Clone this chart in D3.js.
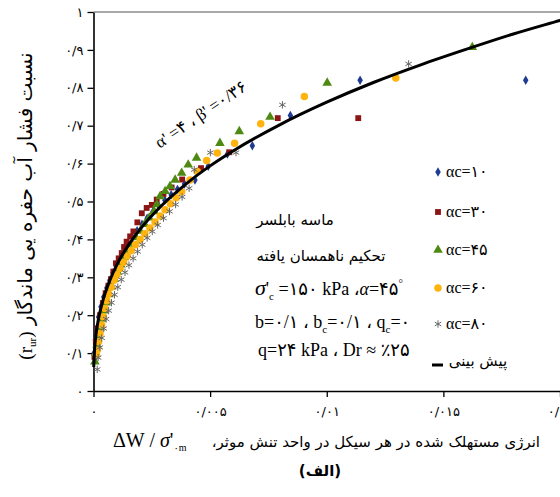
<!DOCTYPE html>
<html><head><meta charset="utf-8">
<script src="https://cdn.jsdelivr.net/npm/d3@7"></script>
<style>body{margin:0;background:#fff}svg{display:block}</style>
</head><body>
<script>
// ---- data ----
const xTicks = [0, 0.005, 0.01, 0.015, 0.02];
const xTickLabels = ["۰", "۰/۰۰۵", "۰/۰۱", "۰/۰۱۵", "۰/۰۲"];
const yTicks = [0, 0.1, 0.2, 0.3, 0.4, 0.5, 0.6, 0.7, 0.8, 0.9, 1];
const yTickLabels = ["۰", "۰/۱", "۰/۲", "۰/۳", "۰/۴", "۰/۵", "۰/۶", "۰/۷", "۰/۸", "۰/۹", "۱"];

const ac10 = [[0.00003,0.10],[0.00008,0.135],[0.00014,0.165],[0.00022,0.195],[0.00032,0.222],[0.00044,0.248],[0.00057,0.272],[0.0007,0.292],[0.00084,0.312],[0.00098,0.33],[0.00113,0.348],[0.0013,0.367],[0.00148,0.386],[0.00167,0.405],[0.00187,0.423],[0.00208,0.44],[0.0023,0.456],[0.00254,0.472],[0.0028,0.488],[0.00306,0.503],[0.00333,0.518],[0.0036,0.532],[0.0039,0.546],[0.00435,0.557],[0.00492,0.593],[0.00574,0.625],[0.00681,0.647],[0.00844,0.727],[0.01143,0.82],[0.01853,0.82]];
const ac30 = [[0.00004,0.09],[0.0001,0.13],[0.00018,0.165],[0.00028,0.2],[0.0004,0.232],[0.00052,0.258],[0.00064,0.278],[0.00075,0.295],[0.00085,0.315],[0.00096,0.337],[0.00108,0.35],[0.00121,0.364],[0.00131,0.38],[0.00142,0.394],[0.00157,0.408],[0.00171,0.421],[0.00188,0.445],[0.00207,0.469],[0.00228,0.483],[0.0025,0.491],[0.00271,0.505],[0.003,0.52],[0.00335,0.537],[0.0038,0.558],[0.00461,0.588],[0.00582,0.63],[0.0079,0.72],[0.01135,0.72]];
const ac45 = [[0.00006,0.077],[0.0001,0.1],[0.00015,0.122],[0.00021,0.145],[0.00028,0.167],[0.00036,0.19],[0.00045,0.212],[0.00055,0.233],[0.00066,0.255],[0.00078,0.275],[0.0009,0.295],[0.00103,0.314],[0.00117,0.333],[0.00132,0.352],[0.00148,0.37],[0.00165,0.388],[0.00182,0.405],[0.002,0.422],[0.00219,0.44],[0.00239,0.457],[0.0026,0.474],[0.00272,0.492],[0.00285,0.513],[0.00307,0.527],[0.00328,0.54],[0.0035,0.557],[0.00378,0.575],[0.00406,0.597],[0.00442,0.615],[0.00542,0.654],[0.00625,0.685],[0.00757,0.723],[0.01002,0.813],[0.01624,0.907]];
const ac60 = [[0.00012,0.095],[0.00016,0.108],[0.00022,0.13],[0.00028,0.152],[0.00035,0.174],[0.00042,0.196],[0.00049,0.218],[0.00057,0.238],[0.00065,0.256],[0.00076,0.274],[0.00088,0.292],[0.001,0.307],[0.00114,0.323],[0.00129,0.34],[0.00145,0.356],[0.00162,0.371],[0.0018,0.386],[0.002,0.4],[0.0022,0.415],[0.00242,0.43],[0.00264,0.446],[0.00286,0.462],[0.00307,0.478],[0.0033,0.494],[0.00354,0.51],[0.00378,0.526],[0.00414,0.557],[0.00445,0.579],[0.00485,0.608],[0.00531,0.628],[0.00605,0.654],[0.00717,0.705],[0.00904,0.777],[0.01296,0.826]];
const ac80 = [[0.00016,0.057],[0.0002,0.088],[0.00027,0.115],[0.00035,0.14],[0.00044,0.165],[0.00054,0.19],[0.00065,0.212],[0.00077,0.233],[0.0009,0.254],[0.00104,0.274],[0.00119,0.294],[0.00135,0.313],[0.00152,0.332],[0.0017,0.35],[0.00189,0.368],[0.00209,0.386],[0.0023,0.404],[0.00252,0.421],[0.00275,0.438],[0.003,0.456],[0.00326,0.474],[0.00352,0.492],[0.0038,0.512],[0.0041,0.535],[0.00432,0.584],[0.00501,0.629],[0.00611,0.629],[0.0081,0.755],[0.01351,0.863]];
const predW = [0.00001,0.00005,0.0001,0.0002,0.0004,0.0007,0.001,0.0015,0.002,0.003,0.004,0.005,0.006,0.008,0.01,0.012,0.014,0.016,0.018,0.02,0.0205];
const predR = [0.063,0.113,0.145,0.186,0.238,0.292,0.333,0.385,0.427,0.494,0.548,0.594,0.634,0.703,0.762,0.814,0.860,0.902,0.942,0.978,0.987];

const seriesNames = ["αc=۱۰", "αc=۳۰", "αc=۴۵", "αc=۶۰", "αc=۸۰"];
const predName = "پیش بینی";

// ---- drawing ----
const W = 560, H = 497;
const svg = d3.select("body").append("svg").attr("width", W).attr("height", H);
const x = d3.scaleLinear().domain([0, 0.02]).range([93.5, 560]);
const y = d3.scaleLinear().domain([0, 1]).range([391, 12]);
const fa = "'DejaVu Sans', sans-serif";
const serif = "'Liberation Serif', 'DejaVu Sans', serif";

// top frame
svg.append("line").attr("x1", x(0)).attr("x2", x(0.021)).attr("y1", y(1)).attr("y2", y(1))
  .attr("stroke", "#555").attr("stroke-width", 1);

const yAxis = svg.append("g").attr("transform", `translate(${x(0)},0)`)
  .call(d3.axisLeft(y).tickValues(yTicks).tickFormat((d, i) => yTickLabels[i]).tickSize(6).tickSizeOuter(0).tickPadding(4));
const xAxis = svg.append("g").attr("transform", `translate(0,${y(0)})`)
  .call(d3.axisBottom(x).tickValues(xTicks).tickFormat((d, i) => xTickLabels[i]).tickSize(6).tickSizeOuter(0).tickPadding(10));
[yAxis, xAxis].forEach(g => {
  g.select(".domain").attr("stroke", "#000").attr("stroke-width", 1.6);
  g.selectAll(".tick line").attr("stroke", "#000").attr("stroke-width", 1.3);
  g.selectAll(".tick text").attr("font-family", fa).attr("font-size", 13).attr("fill", "#000");
});

const styles = [
  {data: ac10, type: d3.symbolDiamond, size: 26, fill: "#1f3a93", stroke: "none"},
  {data: ac30, type: d3.symbolSquare, size: 34, fill: "#8b1414", stroke: "none"},
  {data: ac45, type: d3.symbolTriangle, size: 40, fill: "#4e8a12", stroke: "none"},
  {data: ac60, type: d3.symbolCircle, size: 44, fill: "#ffb30f", stroke: "none"},
  {data: ac80, type: d3.symbolAsterisk, size: 38, fill: "none", stroke: "#666"}
];
styles.forEach(s => {
  svg.append("g").selectAll("path").data(s.data).join("path")
    .attr("transform", d => `translate(${x(d[0])},${y(d[1])})`)
    .attr("d", d3.symbol().type(s.type).size(s.size))
    .attr("fill", s.fill).attr("stroke", s.stroke).attr("stroke-width", 1);
});

// prediction line
const pred = predW.map((w, i) => [w, predR[i]]);
svg.append("path").datum(pred)
  .attr("d", d3.line().x(d => x(d[0])).y(d => y(d[1])).curve(d3.curveMonotoneX))
  .attr("fill", "none").attr("stroke", "#000").attr("stroke-width", 3);

// legend
const legY = [172, 212, 250, 288, 324];
const lg = svg.append("g");
styles.forEach((s, i) => {
  lg.append("path").attr("transform", `translate(438,${legY[i]})`)
    .attr("d", d3.symbol().type(s.type).size(s.size))
    .attr("fill", s.fill).attr("stroke", s.stroke).attr("stroke-width", 1);
  lg.append("text").attr("x", 446).attr("y", legY[i] + 5)
    .attr("font-family", serif).attr("font-size", 16).text(seriesNames[i]);
});
lg.append("line").attr("x1", 432).attr("x2", 443).attr("y1", 365).attr("y2", 365)
  .attr("stroke", "#000").attr("stroke-width", 3);
lg.append("text").attr("x", 478).attr("y", 366).attr("text-anchor", "middle")
  .attr("font-family", fa).attr("font-size", 15).text(predName);

// annotation block
const ann = svg.append("g").attr("fill", "#000");
ann.append("text").attr("x", 295).attr("y", 225).attr("text-anchor", "middle")
  .attr("font-family", fa).attr("font-size", 15).text("ماسه بابلسر");
ann.append("text").attr("x", 321).attr("y", 261).attr("text-anchor", "middle")
  .attr("font-family", fa).attr("font-size", 15).text("تحکیم ناهمسان یافته");
const t3 = ann.append("text").attr("x", 255).attr("y", 295).attr("font-family", serif).attr("font-size", 18);
t3.append("tspan").attr("font-size", 22).attr("font-style", "italic").text("σ");
t3.append("tspan").text("'");
t3.append("tspan").attr("font-size", 11).attr("dy", 5).text("c");
t3.append("tspan").attr("dy", -5).text(" =۱۵۰ kPa ،");
t3.append("tspan").attr("font-style", "italic").text("α");
t3.append("tspan").text("=۴۵");
t3.append("tspan").attr("font-size", 11).attr("dy", -8).text("°");
const t4 = ann.append("text").attr("x", 255).attr("y", 328).attr("font-family", serif).attr("font-size", 18);
t4.append("tspan").text("b=۰/۱ ، b");
t4.append("tspan").attr("font-size", 11).attr("dy", 5).text("c");
t4.append("tspan").attr("dy", -5).text("=۰/۱ ، q");
t4.append("tspan").attr("font-size", 11).attr("dy", 5).text("c");
t4.append("tspan").attr("dy", -5).text("=۰");
ann.append("text").attr("x", 258).attr("y", 356).attr("font-family", serif).attr("font-size", 18)
  .text("q=۲۴ kPa ، Dr ≈ ٪۲۵");

// rotated alpha/beta label
svg.append("text").attr("transform", "translate(204,119) rotate(-34)")
  .attr("text-anchor", "middle").attr("font-family", serif).attr("font-size", 17)
  .text("α' =۴ ، β' =۰/۳۶");

// y title
const yt = svg.append("text").attr("transform", "translate(32,206) rotate(-90)")
  .attr("text-anchor", "middle").attr("font-family", fa).attr("font-size", 20);
yt.append("tspan").attr("font-family", serif).attr("font-size", 19).text("(r");
yt.append("tspan").attr("font-family", serif).attr("font-size", 11).attr("dy", 4).text("ur");
yt.append("tspan").attr("font-family", serif).attr("font-size", 19).attr("dy", -4).text(")");
yt.append("tspan").text(" نسبت فشار آب حفره یی ماندگار");

// x title
const xt = svg.append("text").attr("x", 113).attr("y", 447).attr("font-family", serif).attr("font-size", 20);
xt.append("tspan").text("ΔW / ");
xt.append("tspan").attr("font-style", "italic").text("σ");
xt.append("tspan").text("'");
xt.append("tspan").attr("font-size", 10).attr("dy", 4).text("۰m");
svg.append("text").attr("x", 540).attr("y", 447).attr("text-anchor", "end")
  .attr("font-family", fa).attr("font-size", 15).text("،انرژی مستهلک شده در هر سیکل در واحد تنش موثر");
svg.append("text").attr("x", 320).attr("y", 476).attr("text-anchor", "middle")
  .attr("font-family", fa).attr("font-size", 15).attr("font-weight", "bold").text("(الف)");
</script>
</body></html>
